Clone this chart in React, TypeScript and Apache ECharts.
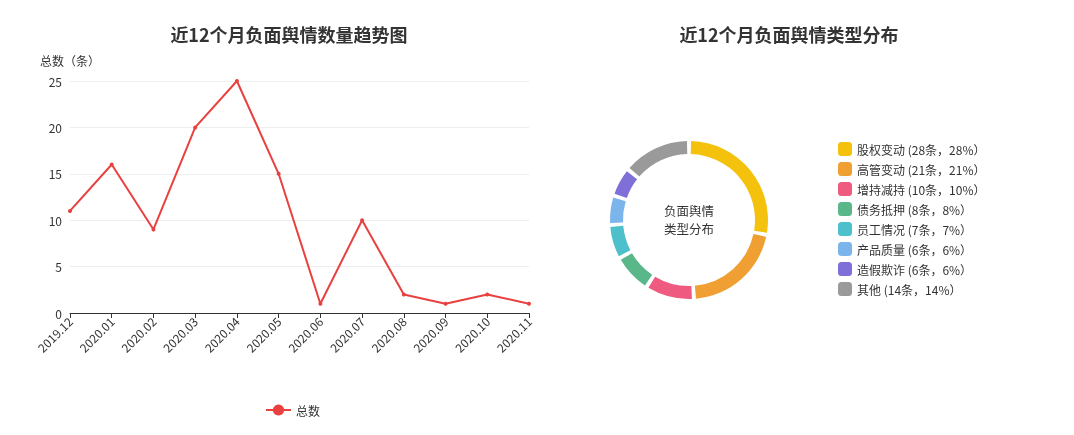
import * as echarts from 'echarts';
import React, { useEffect, useRef } from 'react';

const months = [
  '2019.12', '2020.01', '2020.02', '2020.03', '2020.04', '2020.05',
  '2020.06', '2020.07', '2020.08', '2020.09', '2020.10', '2020.11',
];
const totals = [11, 16, 9, 20, 25, 15, 1, 10, 2, 1, 2, 1];

const typeNames = ['股权变动', '高管变动', '增持减持', '债务抵押', '员工情况', '产品质量', '造假欺诈', '其他'];
const typeCounts = [28, 21, 10, 8, 7, 6, 6, 14];
const typePercents = [28, 21, 10, 8, 7, 6, 6, 14];
const typeColors = ['#f4c20d', '#f0a033', '#ef5a80', '#5ab78a', '#4ec0cb', '#7cb5ec', '#7f6fd8', '#9a9a9a'];

const FONT = '"Noto Sans CJK SC", "Microsoft YaHei", sans-serif';

const App: React.FC = () => {
  const chartRef = useRef<HTMLDivElement>(null);

  useEffect(() => {
    const myChart = echarts.init(chartRef.current!, undefined, { renderer: 'svg' });

    const option = {
      animation: false,
      textStyle: { fontFamily: FONT },
      title: [
        {
          text: '近12个月负面舆情数量趋势图',
          left: 284,
          top: 20,
          textAlign: 'center',
          textStyle: { fontSize: 18, fontWeight: 'bold', color: '#333', fontFamily: FONT },
        },
        {
          text: '近12个月负面舆情类型分布',
          left: 784,
          top: 20,
          textAlign: 'center',
          textStyle: { fontSize: 18, fontWeight: 'bold', color: '#333', fontFamily: FONT },
        },
      ],
      // centre text of the ring
      graphic: [
        {
          type: 'text',
          left: 664,
          top: 203,
          style: { text: '负面舆情', fontSize: 12.5, lineHeight: 14, fill: '#333', fontFamily: FONT },
        },
        {
          type: 'text',
          left: 664,
          top: 221,
          style: { text: '类型分布', fontSize: 12.5, lineHeight: 14, fill: '#333', fontFamily: FONT },
        },
      ],
      legend: [
        {
          data: ['总数'],
          left: 260,
          top: 399,
          textStyle: { color: '#333', fontSize: 12 },
          itemWidth: 25,
          itemHeight: 14,
          itemGap: 5,
        },
        {
          data: typeNames,
          orient: 'vertical',
          left: 833,
          top: 137,
          icon: 'roundRect',
          itemWidth: 14,
          itemHeight: 14,
          itemGap: 6,
          textStyle: { color: '#333', fontSize: 12 },
          formatter: (name: string) => {
            const i = typeNames.indexOf(name);
            return `${name} (${typeCounts[i]}条，${typePercents[i]}%）`;
          },
        },
      ],
      grid: { left: 70, top: 81, right: 545, bottom: 122 },
      xAxis: {
        type: 'category',
        boundaryGap: false,
        data: months,
        axisLine: { lineStyle: { color: '#333' } },
        axisTick: { show: true, lineStyle: { color: '#333' } },
        axisLabel: { rotate: 45, color: '#333', fontSize: 12, interval: 0, margin: 6 },
      },
      yAxis: {
        type: 'value',
        name: '总数（条）',
        min: 0,
        max: 25,
        interval: 5,
        nameTextStyle: { color: '#333', fontSize: 12 },
        axisLine: { show: false },
        axisTick: { show: false },
        axisLabel: { color: '#333', fontSize: 12 },
        splitLine: { lineStyle: { color: '#eee' } },
      },
      series: [
        {
          name: '总数',
          type: 'line',
          data: totals,
          symbol: 'circle',
          symbolSize: 4,
          itemStyle: { color: '#e8413f' },
          lineStyle: { color: '#e8413f', width: 2 },
        },
        {
          name: '类型分布',
          type: 'pie',
          center: [689, 220],
          radius: [66, 79],
          padAngle: 3,
          startAngle: 90,
          label: { show: false },
          labelLine: { show: false },
          data: typeNames.map((n, i) => ({
            name: n,
            value: typeCounts[i],
            itemStyle: { color: typeColors[i] },
          })),
        },
      ],
    };

    myChart.setOption(option);

    return () => {
      myChart.dispose();
    };
  }, []);

  return (
    <div
      ref={chartRef}
      style={{ position: 'fixed', left: 0, top: 0, width: '1074px', height: '435px' }}
    />
  );
};

export default App;
